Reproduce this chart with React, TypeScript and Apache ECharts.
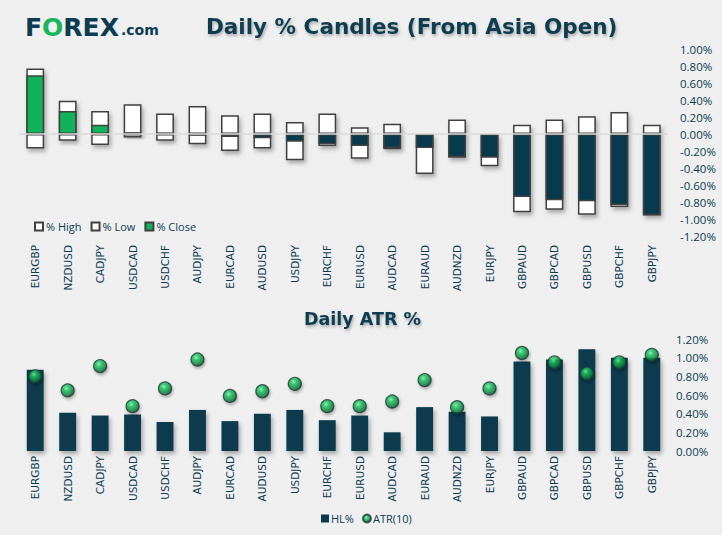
import React, { useEffect, useRef } from "react";
import * as echarts from "echarts";

const categories = ["EURGBP","NZDUSD","CADJPY","USDCAD","USDCHF","AUDJPY","EURCAD","AUDUSD","USDJPY","EURCHF","EURUSD","AUDCAD","EURAUD","AUDNZD","EURJPY","GBPAUD","GBPCAD","GBPUSD","GBPCHF","GBPJPY"];
const highPct = [0.77,0.39,0.27,0.35,0.24,0.33,0.22,0.24,0.14,0.24,0.08,0.12,0.01,0.17,0.0,0.11,0.17,0.21,0.26,0.11];
const lowPct = [-0.17,-0.08,-0.13,-0.04,-0.08,-0.12,-0.20,-0.17,-0.31,-0.14,-0.29,-0.18,-0.47,-0.28,-0.38,-0.92,-0.89,-0.95,-0.86,-0.96];
const closePct = [0.69,0.27,0.11,0.02,0.01,-0.02,-0.035,-0.05,-0.09,-0.12,-0.14,-0.165,-0.165,-0.27,-0.28,-0.74,-0.78,-0.79,-0.835,-0.955];
const hlPct = [0.87,0.41,0.38,0.39,0.31,0.44,0.32,0.40,0.44,0.33,0.38,0.20,0.47,0.42,0.37,0.96,0.98,1.09,1.00,1.00];
const atrPct = [0.80,0.65,0.91,0.48,0.67,0.98,0.59,0.64,0.72,0.48,0.48,0.53,0.76,0.47,0.67,1.05,0.95,0.83,0.95,1.03];
const candleAxis = { min: -1.2, max: 1.0, step: 0.2 };
const atrAxis = { min: 0, max: 1.2, step: 0.2 };

const TEAL = "#0B3C50";
const DARK = "#073A4D";
const GREEN = "#10B25A";
const BORDER = "#404040";

export default function App() {
  const ref = useRef<HTMLDivElement>(null);
  useEffect(() => {
    document.body.style.margin = "0";
    document.body.style.background = "#ffffff";
    const chart = echarts.init(ref.current!, undefined, { renderer: "svg" });
    const pct = (v: number) => v.toFixed(2) + "%";
    const catLabel = {
      rotate: 90,
      fontSize: 10.5,
      fontFamily: "DejaVu Sans",
      color: TEAL,
      interval: 0,
    };
    const yLabel = {
      fontSize: 11.5,
      fontFamily: "Liberation Sans Narrow, Open Sans, sans-serif",
      color: TEAL,
      align: "left" as const,
      formatter: pct,
    };
    const shadow = {
      shadowBlur: 4,
      shadowOffsetX: 2,
      shadowOffsetY: 3,
      shadowColor: "rgba(0,0,0,0.3)",
    };
    const ball = new echarts.graphic.RadialGradient(0.4, 0.35, 0.65, [
      { offset: 0, color: "#8DF5B5" },
      { offset: 0.3, color: "#1FC864" },
      { offset: 0.75, color: "#0A8A40" },
      { offset: 1, color: "#0B4A2E" },
    ]);
    const titleShadow = {
      textShadowColor: "rgba(0,0,0,0.3)",
      textShadowBlur: 3,
      textShadowOffsetX: 1,
      textShadowOffsetY: 2,
    };
    chart.setOption({
      animation: false,
      backgroundColor: "#EFEFEF",
      grid: [
        { left: 19, right: 54, top: 49, height: 187 },
        { left: 19, right: 54, top: 339, height: 112 },
      ],
      xAxis: [
        {
          type: "category",
          gridIndex: 0,
          data: categories,
          axisLine: { show: false, onZero: false },
          axisTick: { show: false },
          axisLabel: { ...catLabel, margin: 9 },
        },
        {
          type: "category",
          gridIndex: 1,
          data: categories,
          axisLine: { show: false },
          axisTick: { show: false },
          axisLabel: { ...catLabel, margin: 5 },
        },
      ],
      yAxis: [
        {
          type: "value",
          gridIndex: 0,
          position: "right",
          min: candleAxis.min,
          max: candleAxis.max,
          interval: candleAxis.step,
          splitLine: { show: false },
          axisLabel: { ...yLabel, margin: 12 },
        },
        {
          type: "value",
          gridIndex: 1,
          position: "right",
          min: atrAxis.min,
          max: atrAxis.max,
          interval: atrAxis.step,
          splitLine: { show: false },
          axisLabel: { ...yLabel, margin: 8 },
        },
      ],
      legend: [
        {
          data: ["% High", "% Low", "% Close"],
          left: 29,
          top: 216,
          itemWidth: 8,
          itemHeight: 8,
          itemGap: 9,
          icon: "rect",
          textStyle: { fontSize: 11, color: TEAL, fontFamily: "Open Sans, sans-serif", padding: [0, 0, 0, -2] },
        },
        {
          data: [
            { name: "HL%", icon: "rect" },
            { name: "ATR(10)", icon: "circle" },
          ],
          left: 316,
          top: 508,
          itemWidth: 8,
          itemHeight: 8,
          itemGap: 8,
          textStyle: { fontSize: 11, color: TEAL, fontFamily: "Liberation Sans Narrow, Open Sans, sans-serif", padding: [0, 0, 0, -3] },
        },
      ],
      series: [
        {
          name: "% High",
          type: "bar",
          xAxisIndex: 0,
          yAxisIndex: 0,
          barWidth: "55%",
          barGap: "-100%",
          data: highPct,
          itemStyle: { color: "#FFFFFF", borderColor: BORDER, borderWidth: 1.5, ...shadow },
          markLine: {
            silent: true,
            symbol: "none",
            label: { show: false },
            lineStyle: { color: "#DADADA", width: 1.5, type: "solid" },
            data: [{ yAxis: 0 }],
          },
        },
        {
          name: "% Low",
          type: "bar",
          xAxisIndex: 0,
          yAxisIndex: 0,
          barWidth: "55%",
          barGap: "-100%",
          data: lowPct,
          itemStyle: { color: "#FFFFFF", borderColor: BORDER, borderWidth: 1.5, ...shadow },
        },
        {
          name: "% Close",
          type: "bar",
          xAxisIndex: 0,
          yAxisIndex: 0,
          barWidth: "55%",
          barGap: "-100%",
          data: closePct.map((v) => ({
            value: v,
            itemStyle: { color: v >= 0 ? GREEN : DARK },
          })),
          itemStyle: { color: GREEN, borderColor: BORDER, borderWidth: 1.5 },
        },
        {
          name: "HL%",
          type: "bar",
          xAxisIndex: 1,
          yAxisIndex: 1,
          barWidth: "52%",
          data: hlPct,
          itemStyle: { color: DARK, ...shadow },
        },
        {
          name: "ATR(10)",
          type: "scatter",
          xAxisIndex: 1,
          yAxisIndex: 1,
          symbol: "circle",
          symbolSize: 13,
          data: atrPct,
          itemStyle: {
            color: ball,
            borderColor: "#1F3A34",
            borderWidth: 1.2,
            shadowBlur: 3,
            shadowOffsetX: 1,
            shadowOffsetY: 2,
            shadowColor: "rgba(0,0,0,0.35)",
          },
        },
      ],
      graphic: [
        {
          type: "text",
          left: 206,
          top: 15,
          style: {
            text: "Daily % Candles (From Asia Open)",
            font: "bold 21.5px DejaVu Sans",
            fill: TEAL,
            ...titleShadow,
          },
        },
        {
          type: "text",
          left: 304,
          top: 310,
          style: {
            text: "Daily ATR %",
            font: "bold 17.5px DejaVu Sans",
            fill: TEAL,
            ...titleShadow,
          },
        },
        {
          type: "text",
          left: 25,
          top: 15,
          style: {
            text: "{f|F}{o|O}{f|REX}{c|.com}",
            rich: {
              f: { font: "bold 25px DejaVu Sans", fill: TEAL, verticalAlign: "bottom" },
              o: { font: "bold 25px DejaVu Sans", fill: "#19B55C", verticalAlign: "bottom" },
              c: { font: "bold 14px DejaVu Sans", fill: TEAL, verticalAlign: "bottom", padding: [0, 0, 3, 2] },
            },
          },
        },
      ],
    });
    return () => chart.dispose();
  }, []);
  return (
    <div
      ref={ref}
      style={{ position: "fixed", left: 0, top: 0, width: 722, height: 535 }}
    />
  );
}
